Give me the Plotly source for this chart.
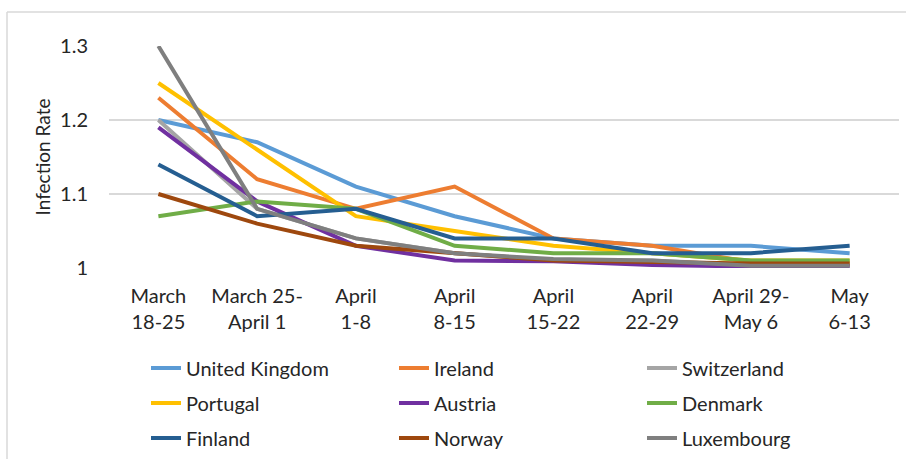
import plotly.graph_objects as go

# Weekly periods on the x axis
periods = [
    "March<br>18-25",
    "March 25-<br>April 1",
    "April<br>1-8",
    "April<br>8-15",
    "April<br>15-22",
    "April<br>22-29",
    "April 29-<br>May 6",
    "May<br>6-13",
]

# Infection rate per country per period
united_kingdom = [1.20, 1.17, 1.11, 1.07, 1.04, 1.03, 1.03, 1.02]
ireland = [1.23, 1.12, 1.08, 1.11, 1.04, 1.03, 1.008, 1.006]
switzerland = [1.20, 1.08, 1.04, 1.02, 1.01, 1.01, 1.004, 1.004]
portugal = [1.25, 1.16, 1.07, 1.05, 1.03, 1.02, 1.01, 1.01]
austria = [1.19, 1.09, 1.03, 1.01, 1.009, 1.004, 1.002, 1.002]
denmark = [1.07, 1.09, 1.08, 1.03, 1.02, 1.02, 1.01, 1.01]
finland = [1.14, 1.07, 1.08, 1.04, 1.04, 1.02, 1.02, 1.03]
norway = [1.10, 1.06, 1.03, 1.02, 1.01, 1.008, 1.006, 1.006]
luxembourg = [1.30, 1.08, 1.04, 1.02, 1.012, 1.01, 1.003, 1.003]

y_ticks = [1.0, 1.1, 1.2, 1.3]
y_tick_text = ["1", "1.1", "1.2", "1.3"]

series = [
    ("United Kingdom", united_kingdom, "#5B9BD5", "legend"),
    ("Ireland", ireland, "#ED7D31", "legend"),
    ("Switzerland", switzerland, "#A5A5A5", "legend"),
    ("Portugal", portugal, "#FFC000", "legend2"),
    ("Austria", austria, "#7030A0", "legend2"),
    ("Denmark", denmark, "#70AD47", "legend2"),
    ("Finland", finland, "#255E91", "legend3"),
    ("Norway", norway, "#9E480E", "legend3"),
    ("Luxembourg", luxembourg, "#7F7F7F", "legend3"),
]

FONT = "Lato, Calibri, sans-serif"
TEXT = "#262626"

fig = go.Figure()
for name, values, color, leg in series:
    fig.add_trace(go.Scatter(
        x=periods, y=values, name=name, mode="lines",
        line=dict(color=color, width=4),
        legend=leg,
    ))

W, H = 906, 462
ml, mr, mt, mb = 109, 7, 46, 194
pw, ph = W - ml - mr, H - mt - mb


def px_x(p):
    return (p - ml) / pw


def px_y(p):
    return (H - mb - p) / ph


legend_common = dict(
    orientation="h", xanchor="left", yanchor="middle",
    entrywidth=203, entrywidthmode="pixels",
    font=dict(family=FONT, size=20, color=TEXT),
    bgcolor="rgba(0,0,0,0)", itemclick=False, itemdoubleclick=False,
    tracegroupgap=0,
)

fig.update_layout(
    width=W, height=H,
    margin=dict(l=ml, r=mr, t=mt, b=mb, autoexpand=False),
    paper_bgcolor="white", plot_bgcolor="white",
    font=dict(family=FONT, size=20, color=TEXT),
    showlegend=True,
    legend=dict(x=px_x(146), y=px_y(368), **legend_common),
    legend2=dict(x=px_x(146), y=px_y(403), **legend_common),
    legend3=dict(x=px_x(146), y=px_y(438), **legend_common),
    xaxis=dict(
        type="category", range=[-0.5, len(periods) - 0.5],
        showgrid=False, showline=False, zeroline=False, ticks="",
        tickfont=dict(family=FONT, size=20, color=TEXT),
        ticklabelstandoff=14,
        automargin=False,
        fixedrange=True,
    ),
    yaxis=dict(
        range=[1.0, 1.3], tickvals=y_ticks, ticktext=y_tick_text,
        showgrid=True, gridcolor="#D9D9D9", gridwidth=1.5,
        zeroline=False, showline=False, ticks="",
        tickfont=dict(family=FONT, size=20, color=TEXT),
        ticklabelstandoff=20,
        title=dict(text="Infection Rate", font=dict(family=FONT, size=19, color=TEXT), standoff=4),
        automargin=False,
        fixedrange=True,
    ),
    shapes=[
        dict(type="line", xref="paper", yref="paper",
             x0=px_x(7), x1=px_x(906), y0=px_y(12), y1=px_y(12),
             line=dict(color="#D9D9D9", width=1.5)),
        dict(type="line", xref="paper", yref="paper",
             x0=px_x(7), x1=px_x(7), y0=px_y(12), y1=px_y(459),
             line=dict(color="#D9D9D9", width=1.5)),
    ],
)

fig.write_html("out.html")
